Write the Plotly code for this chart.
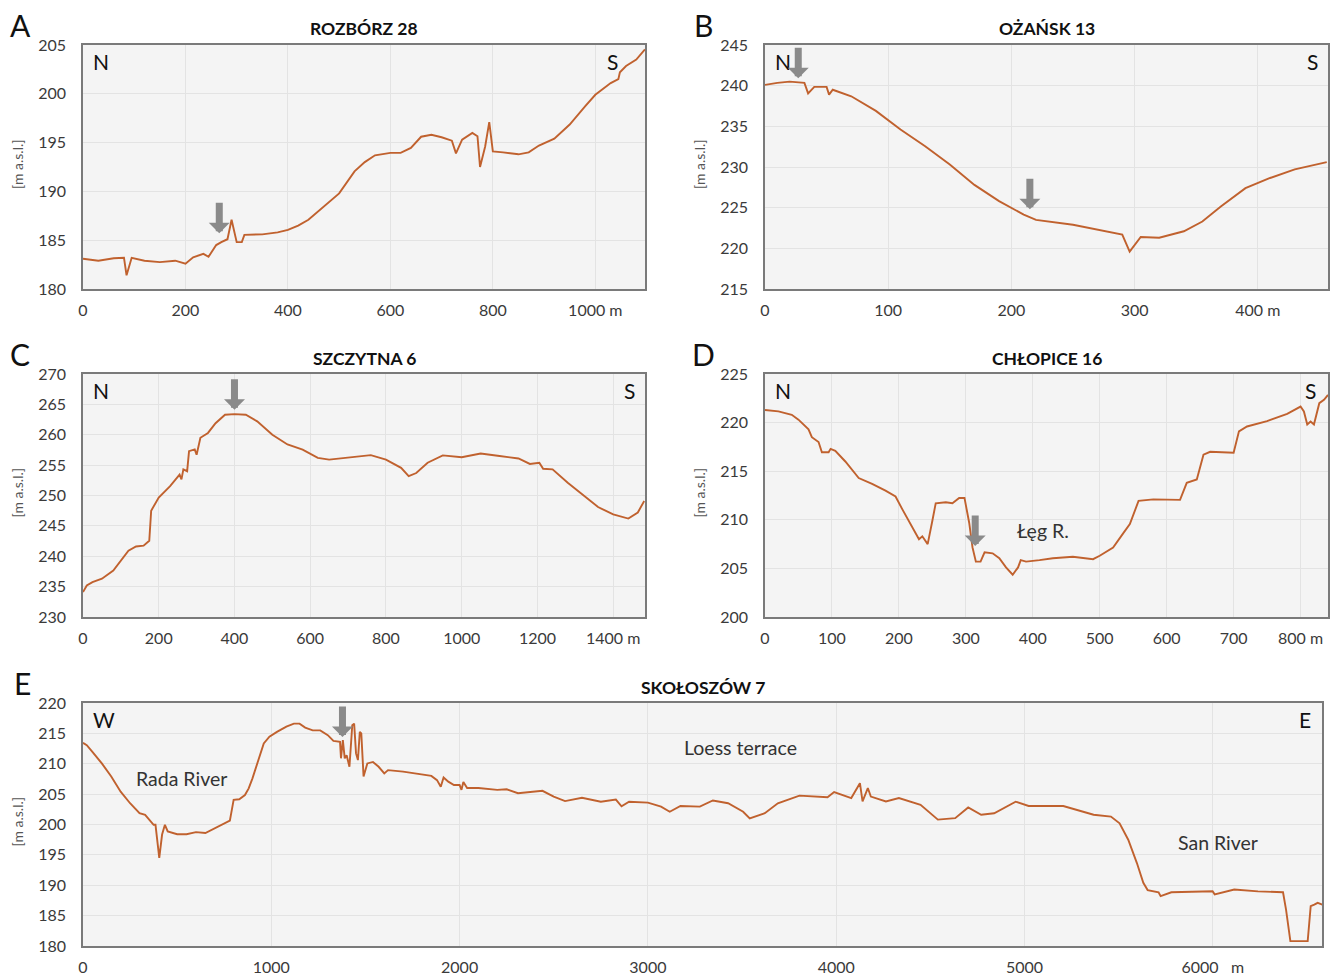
import plotly.graph_objects as go

W, H = 1339, 976

# ---------------- data ----------------
a_x = [0, 30, 60, 80, 85, 95, 120, 150, 180, 200, 215, 235, 245, 260, 270, 282, 290, 300, 310, 315, 350, 380, 400, 420, 440, 470, 500, 530, 550, 570, 600, 620, 640, 660, 680, 700, 720, 728, 740, 760, 770, 775, 785, 793, 800, 820, 850, 870, 890, 920, 950, 980, 1000, 1030, 1045, 1048, 1060, 1080, 1097]
a_y = [183.1, 182.9, 183.15, 183.2, 181.4, 183.2, 182.9, 182.75, 182.9, 182.6, 183.25, 183.6, 183.3, 184.5, 184.8, 185.1, 187.1, 184.8, 184.8, 185.55, 185.6, 185.8, 186.05, 186.5, 187.1, 188.45, 189.8, 192.05, 193.0, 193.7, 193.95, 193.95, 194.45, 195.6, 195.8, 195.55, 195.2, 193.9, 195.3, 196.0, 195.65, 192.5, 194.6, 197.1, 194.1, 194.0, 193.8, 194.0, 194.7, 195.4, 196.85, 198.7, 199.9, 201.1, 201.5, 202.2, 202.85, 203.5, 204.55]

b_x = [0, 10, 20, 32, 35, 40, 50, 52, 55, 70, 90, 110, 130, 150, 170, 190, 210, 220, 250, 270, 290, 296, 305, 320, 340, 355, 370, 390, 410, 430, 456]
b_y = [240.1, 240.35, 240.5, 240.35, 239.05, 239.85, 239.85, 238.9, 239.5, 238.7, 236.9, 234.6, 232.55, 230.3, 227.8, 225.8, 224.15, 223.5, 222.9, 222.3, 221.7, 219.6, 221.4, 221.3, 222.1, 223.3, 225.15, 227.4, 228.65, 229.7, 230.6]

c_x = [0, 10, 25, 50, 80, 100, 120, 140, 160, 175, 180, 200, 230, 255, 260, 265, 275, 280, 295, 300, 310, 330, 350, 375, 400, 430, 460, 500, 540, 580, 620, 650, 700, 760, 800, 840, 860, 880, 910, 950, 1000, 1050, 1100, 1150, 1180, 1205, 1215, 1240, 1280, 1320, 1360, 1400, 1440, 1465, 1482]
c_y = [234.1, 235.2, 235.75, 236.3, 237.65, 239.3, 240.9, 241.6, 241.75, 242.55, 247.5, 249.65, 251.55, 253.45, 252.65, 254.3, 254.0, 257.3, 257.6, 256.7, 259.5, 260.3, 261.9, 263.3, 263.4, 263.3, 262.2, 260.0, 258.4, 257.55, 256.2, 255.9, 256.2, 256.65, 255.9, 254.55, 253.2, 253.7, 255.4, 256.6, 256.3, 256.9, 256.5, 256.1, 255.2, 255.4, 254.4, 254.3, 252.1, 250.1, 248.1, 246.9, 246.2, 247.2, 249.1]

d_x = [0, 20, 40, 50, 65, 70, 80, 85, 95, 98, 105, 120, 140, 160, 180, 195, 205, 220, 230, 235, 243, 250, 255, 270, 280, 290, 298, 305, 310, 315, 322, 328, 340, 350, 360, 370, 378, 382, 390, 410, 430, 460, 490, 500, 520, 535, 545, 558, 580, 620, 625, 630, 645, 655, 665, 700, 708, 720, 750, 780, 800, 805, 810, 815, 820, 828, 835, 841]
d_y = [221.3, 221.15, 220.8, 220.3, 219.3, 218.5, 218.0, 216.95, 216.95, 217.3, 217.1, 216.0, 214.3, 213.7, 213.0, 212.4, 211.1, 209.2, 208.0, 208.3, 207.5, 209.9, 211.7, 211.8, 211.7, 212.25, 212.25, 209.7, 207.15, 205.7, 205.7, 206.65, 206.55, 206.05, 205.1, 204.35, 205.1, 205.85, 205.7, 205.85, 206.05, 206.2, 205.95, 206.3, 207.15, 208.6, 209.55, 211.95, 212.1, 212.05, 212.95, 213.8, 214.15, 216.7, 217.0, 216.9, 219.1, 219.6, 220.15, 220.9, 221.65, 221.15, 219.8, 220.1, 219.8, 222.0, 222.35, 222.85]

e_x = [0, 20, 50, 100, 150, 200, 250, 300, 330, 350, 375, 385, 405, 420, 435, 450, 470, 500, 550, 600, 650, 700, 750, 780, 800, 830, 860, 880, 900, 920, 940, 960, 990, 1030, 1080, 1120, 1150, 1180, 1220, 1260, 1300, 1330, 1365, 1370, 1380, 1390, 1400, 1415, 1430, 1440, 1450, 1460, 1470, 1478, 1490, 1510, 1540, 1570, 1600, 1620, 1700, 1800, 1850, 1880, 1900, 1915, 1940, 1970, 2000, 2010, 2020, 2040, 2100, 2200, 2250, 2310, 2400, 2440, 2500, 2560, 2650, 2750, 2830, 2860, 2900, 3000, 3070, 3116, 3173, 3276, 3345, 3426, 3506, 3541, 3621, 3690, 3805, 3954, 3989, 4080, 4126, 4140, 4168, 4184, 4264, 4333, 4448, 4540, 4632, 4701, 4770, 4839, 4953, 5022, 5206, 5309, 5367, 5459, 5505, 5551, 5597, 5631, 5654, 5712, 5723, 5780, 5999, 6010, 6056, 6114, 6240, 6373, 6389, 6412, 6504, 6520, 6539, 6557, 6584]
e_y = [213.45, 213.05, 211.95, 210.05, 207.9, 205.4, 203.5, 201.85, 201.6, 200.8, 199.95, 199.95, 194.5, 198.35, 199.95, 198.85, 198.7, 198.4, 198.4, 198.75, 198.6, 199.4, 200.1, 200.65, 204.05, 204.15, 204.85, 205.95, 207.6, 209.5, 211.7, 213.35, 214.45, 215.25, 216.1, 216.6, 216.6, 215.95, 215.5, 215.5, 214.7, 213.75, 213.6, 210.9, 213.9, 210.9, 211.4, 209.5, 216.35, 216.6, 211.7, 210.6, 215.25, 215.0, 207.9, 210.05, 210.3, 209.5, 208.4, 208.95, 208.7, 208.25, 208.0, 207.3, 206.2, 207.75, 207.05, 206.5, 206.5, 205.7, 207.0, 206.0, 206.0, 205.7, 205.8, 205.15, 205.4, 205.55, 204.6, 203.85, 204.4, 203.75, 204.1, 203.0, 203.75, 203.6, 202.95, 202.1, 203.05, 202.95, 203.95, 203.5, 202.1, 201.0, 201.85, 203.5, 204.75, 204.5, 205.35, 204.35, 206.8, 203.8, 206.0, 204.6, 203.8, 204.35, 203.25, 200.8, 201.05, 202.8, 201.6, 201.85, 203.75, 203.05, 203.05, 202.1, 201.6, 201.3, 200.2, 197.5, 193.65, 190.4, 189.2, 188.85, 188.2, 188.85, 189.0, 188.5, 188.85, 189.3, 189.0, 188.85, 186.0, 180.8, 180.8, 186.55, 186.8, 187.1, 186.8]

a_xticks = [0, 200, 400, 600, 800, 1000]
a_xlabels = ["0", "200", "400", "600", "800", "1000 m"]
b_xticks = [0, 100, 200, 300, 400]
b_xlabels = ["0", "100", "200", "300", "400 m"]
c_xticks = [0, 200, 400, 600, 800, 1000, 1200, 1400]
c_xlabels = ["0", "200", "400", "600", "800", "1000", "1200", "1400 m"]
d_xticks = [0, 100, 200, 300, 400, 500, 600, 700, 800]
d_xlabels = ["0", "100", "200", "300", "400", "500", "600", "700", "800 m"]
e_xticks = [0, 1000, 2000, 3000, 4000, 5000, 6000]
e_xlabels = ["0", "1000", "2000", "3000", "4000", "5000", "6000\u00a0\u00a0 m"]

titles = ["ROZBÓRZ 28", "OŻAŃSK 13", "SZCZYTNA 6", "CHŁOPICE 16", "SKOŁOSZÓW 7"]
letters = ["A", "B", "C", "D", "E"]
dir_left = ["N", "N", "N", "N", "W"]
dir_right = ["S", "S", "S", "S", "E"]

# arrow tips (x, y in data units), per panel
arrows = {
    0: [(266, 185.7)],
    1: [(27, 240.9), (215, 224.8)],
    2: [(400, 264.1)],
    3: [(314, 207.3)],
    4: [(1378, 214.4)],
}
place_labels = [
    (3, 416, 208.9, "Łęg R."),
    (4, 525, 207.6, "Rada River"),
    (4, 3494, 212.7, "Loess terrace"),
    (4, 6028, 197.05, "San River"),
]

# ---------------- layout geometry (pixels) ----------------
panels = [
    dict(x=a_x, y=a_y, px=(83, 645), py=(45, 289), xr=(0, 1097), yr=(180, 205), yd=5,
         xt=a_xticks, xl=a_xlabels, rpad=25),
    dict(x=b_x, y=b_y, px=(765, 1328), py=(45, 289), xr=(0, 457), yr=(215, 245), yd=5,
         xt=b_xticks, xl=b_xlabels, rpad=8),
    dict(x=c_x, y=c_y, px=(83, 645), py=(374, 617), xr=(0, 1484), yr=(230, 270), yd=5,
         xt=c_xticks, xl=c_xlabels, rpad=8),
    dict(x=d_x, y=d_y, px=(765, 1328), py=(374, 617), xr=(0, 841), yr=(200, 225), yd=5,
         xt=d_xticks, xl=d_xlabels, rpad=10),
    dict(x=e_x, y=e_y, px=(83, 1322), py=(703, 946), xr=(0, 6580), yr=(180, 220), yd=5,
         xt=e_xticks, xl=e_xlabels, rpad=9),
]

FONT = "Lato, 'Open Sans', sans-serif"
LINE = "#c0612e"
TXT = "#3a3a3a"


def px(xp):
    return xp / W


def py(yp):
    return 1 - yp / H


def paper_text(text, x, y, size, color="#111", xanchor="center", yanchor="middle", angle=0):
    return dict(text=text, x=px(x), y=py(y), xref="paper", yref="paper", showarrow=False,
                xanchor=xanchor, yanchor=yanchor, textangle=angle,
                font=dict(family=FONT, size=size, color=color))


fig = go.Figure()
ann = []
for i, p in enumerate(panels):
    n = "" if i == 0 else str(i + 1)
    xa, ya = "x" + n, "y" + n
    fig.add_trace(go.Scatter(x=p["x"], y=p["y"], mode="lines",
                             line=dict(color=LINE, width=1.9),
                             xaxis=xa, yaxis=ya, showlegend=False, hoverinfo="skip"))
    axcommon = dict(showline=True, linecolor="#7a7a7a", linewidth=1.5, mirror=True,
                    showgrid=True, gridcolor="#e3e3e3", gridwidth=1, zeroline=False,
                    automargin=False,
                    tickfont=dict(family=FONT, size=16, color=TXT), ticks="")
    fig.update_layout(**{
        "xaxis" + n: dict(domain=[px(p["px"][0]), px(p["px"][1])], range=list(p["xr"]),
                          anchor=ya, tickvals=p["xt"], ticktext=p["xl"],
                          ticklabelstandoff=6, **axcommon),
        "yaxis" + n: dict(domain=[py(p["py"][1]), py(p["py"][0])], range=list(p["yr"]),
                          anchor=xa, dtick=p["yd"], tick0=p["yr"][0],
                          ticklabelstandoff=12, **axcommon),
    })
    cx = (p["px"][0] + p["px"][1]) / 2
    ann.append(paper_text("<b>" + titles[i] + "</b>", cx, p["py"][0] - 16, 17.5))
    lx = 20 if p["px"][0] < 100 else 703
    ann.append(paper_text(letters[i], lx + (2 if i == 4 else 0), p["py"][0] - 20, 30))
    ann.append(paper_text("[m a.s.l.]", p["px"][0] - 66, (p["py"][0] + p["py"][1]) / 2 - 3,
                          14, color="#555", angle=-90))
    ann.append(paper_text(dir_left[i], p["px"][0] + 8, p["py"][0] + 2, 21,
                          xanchor="left", yanchor="top"))
    ann.append(paper_text(dir_right[i], p["px"][1] - p["rpad"], p["py"][0] + 2, 21,
                          xanchor="right", yanchor="top"))
    for (ax_, ay_) in arrows[i]:
        ann.append(dict(x=ax_, y=ay_, xref=xa, yref=ya, text="", showarrow=True,
                        ax=0, ay=-32, arrowhead=1, arrowsize=0.5, arrowwidth=7,
                        arrowcolor="#8a8a8a", standoff=0))

for (i, lx_, ly_, t) in place_labels:
    n = "" if i == 0 else str(i + 1)
    ann.append(dict(x=lx_, y=ly_, xref="x" + n, yref="y" + n, text=t, showarrow=False,
                    xanchor="center", yanchor="middle",
                    font=dict(family=FONT, size=19.5, color="#333")))

fig.update_layout(width=W, height=H, autosize=False,
                  margin=dict(l=0, r=0, t=0, b=0, pad=0, autoexpand=False),
                  paper_bgcolor="white", plot_bgcolor="#f4f4f4",
                  annotations=ann, showlegend=False)

fig.write_html("out.html", config={"responsive": False, "displayModeBar": False},
               post_script="document.body.style.margin='0px';document.body.style.padding='0px';document.body.style.overflow='hidden';")
